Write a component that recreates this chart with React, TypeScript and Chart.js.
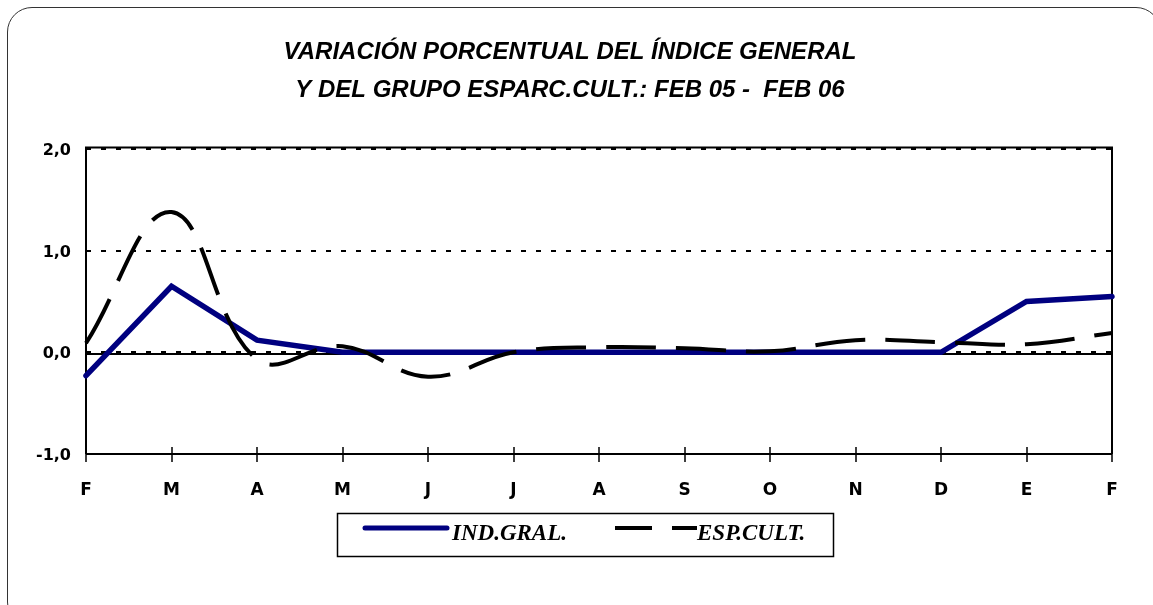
import { useEffect, useRef } from "react";
import { Chart, registerables } from "chart.js";

Chart.register(...registerables);

const months = ["F", "M", "A", "M", "J", "J", "A", "S", "O", "N", "D", "E", "F"];
const indGral = [-0.23, 0.65, 0.12, 0.0, 0.0, 0.0, 0.0, 0.0, 0.0, 0.0, 0.0, 0.5, 0.55];
const espCult = [0.09, 1.38, -0.07, 0.06, -0.24, 0.0, 0.05, 0.04, 0.01, 0.12, 0.1, 0.08, 0.19];
const yMin = -1;
const yMax = 2;
const gridValues = [0, 1, 2];
const titleLines = [
  "VARIACIÓN PORCENTUAL DEL ÍNDICE GENERAL",
  "Y DEL GRUPO ESPARC.CULT.: FEB 05 -  FEB 06",
];
const legendLabels = ["IND.GRAL.", "ESP.CULT."];

const NAVY = "#000080";
const ESP_DASH = [50, 20];

const framePlugin = {
  id: "frame",
  beforeDatasetsDraw(chart: any) {
    const { ctx, chartArea: a, scales } = chart;
    const y = scales.y;
    const x = scales.x;
    ctx.save();
    ctx.strokeStyle = "#000";
    ctx.lineWidth = 2;
    ctx.setLineDash([5, 10]);
    for (const v of gridValues) {
      const py = Math.round(y.getPixelForValue(v));
      ctx.beginPath();
      ctx.moveTo(a.left, py);
      ctx.lineTo(a.right, py);
      ctx.stroke();
    }
    ctx.setLineDash([]);
    const y0 = Math.round(y.getPixelForValue(0)) + 2;
    ctx.beginPath();
    ctx.moveTo(a.left, y0);
    ctx.lineTo(a.right, y0);
    ctx.stroke();
    ctx.beginPath();
    ctx.moveTo(a.left, a.bottom);
    ctx.lineTo(a.left, a.top - 1.5);
    ctx.lineTo(a.right, a.top - 1.5);
    ctx.lineTo(a.right, a.bottom);
    ctx.stroke();
    ctx.beginPath();
    ctx.moveTo(a.left, a.bottom);
    ctx.lineTo(a.right, a.bottom);
    ctx.stroke();
    ctx.lineWidth = 1.5;
    ctx.beginPath();
    months.forEach((_, i) => {
      const px = Math.round(x.getPixelForValue(i));
      ctx.moveTo(px, a.bottom - 7);
      ctx.lineTo(px, a.bottom + 8);
    });
    ctx.stroke();
    ctx.restore();
  },
  afterDraw(chart: any) {
    const { ctx } = chart;
    ctx.save();
    // title
    ctx.fillStyle = "#000";
    ctx.textAlign = "center";
    ctx.textBaseline = "alphabetic";
    ctx.font = "italic bold 24px 'Liberation Sans', Arial, sans-serif";
    ctx.fillText(titleLines[0], 570, 59);
    ctx.fillText(titleLines[1], 570, 97);
    // legend box
    ctx.strokeStyle = "#000";
    ctx.lineWidth = 1.5;
    ctx.strokeRect(337.5, 513.5, 496, 43);
    // item 1
    ctx.strokeStyle = NAVY;
    ctx.lineWidth = 5;
    ctx.lineCap = "round";
    ctx.beginPath();
    ctx.moveTo(365, 528);
    ctx.lineTo(447, 528);
    ctx.stroke();
    // item 2
    ctx.strokeStyle = "#000";
    ctx.lineWidth = 4;
    ctx.lineCap = "butt";
    ctx.setLineDash([37, 20]);
    ctx.beginPath();
    ctx.moveTo(615, 528);
    ctx.lineTo(697, 528);
    ctx.stroke();
    ctx.setLineDash([]);
    ctx.fillStyle = "#000";
    ctx.textAlign = "left";
    ctx.font = "italic bold 23px 'Liberation Serif', 'Times New Roman', serif";
    ctx.fillText(legendLabels[0], 452, 540);
    ctx.fillText(legendLabels[1], 697, 540);
    ctx.restore();
  },
};

export default function App() {
  const canvasRef = useRef<HTMLCanvasElement | null>(null);

  useEffect(() => {
    const canvas = canvasRef.current;
    if (!canvas) return;
    const chart = new Chart(canvas, {
      type: "line",
      data: {
        labels: months,
        datasets: [
          {
            label: legendLabels[1],
            data: espCult,
            borderColor: "#000",
            borderWidth: 4,
            borderDash: ESP_DASH,
            tension: 0.4,
            pointRadius: 0,
            fill: false,
            clip: false,
            order: 0,
          } as any,
          {
            label: legendLabels[0],
            data: indGral,
            borderColor: NAVY,
            borderWidth: 5.5,
            borderCapStyle: "round",
            tension: 0,
            pointRadius: 0,
            fill: false,
            clip: false,
            order: 1,
          } as any,
        ],
      },
      options: {
        responsive: false,
        animation: false,
        devicePixelRatio: 1,
        layout: { padding: { top: 149, right: 41, bottom: 0, left: 0 } },
        plugins: {
          legend: { display: false },
          title: { display: false },
          tooltip: { enabled: false },
        },
        scales: {
          x: {
            type: "category",
            offset: false,
            grid: { display: false, drawTicks: false },
            border: { display: false },
            ticks: {
              color: "#000",
              padding: 26,
              maxRotation: 0,
              autoSkip: false,
              font: { family: "'DejaVu Sans', sans-serif", weight: "bold", size: 17 },
            },
            afterFit(scale: any) {
              scale.height = 151;
            },
          },
          y: {
            min: yMin,
            max: yMax,
            grid: { display: false, drawTicks: false },
            border: { display: false },
            ticks: {
              stepSize: 1,
              color: "#000",
              padding: 15,
              labelOffset: 2,
              font: { family: "'DejaVu Sans', sans-serif", weight: "bold", size: 16 },
              callback: (v: any) => Number(v).toFixed(1).replace(".", ","),
            },
            afterFit(scale: any) {
              scale.width = 86;
            },
          },
        },
      },
      plugins: [framePlugin],
    });
    return () => chart.destroy();
  }, []);

  return (
    <div style={{ position: "fixed", left: 0, top: 0, width: 1153, height: 605, overflow: "hidden", background: "#fff" }}>
      <div
        style={{
          position: "absolute",
          left: 7,
          top: 7,
          width: 1154,
          height: 620,
          border: "1.5px solid #333",
          borderRadius: 25,
          boxSizing: "border-box",
        }}
      />
      <canvas ref={canvasRef} width={1153} height={605} style={{ position: "absolute", left: 0, top: 0 }} />
    </div>
  );
}
